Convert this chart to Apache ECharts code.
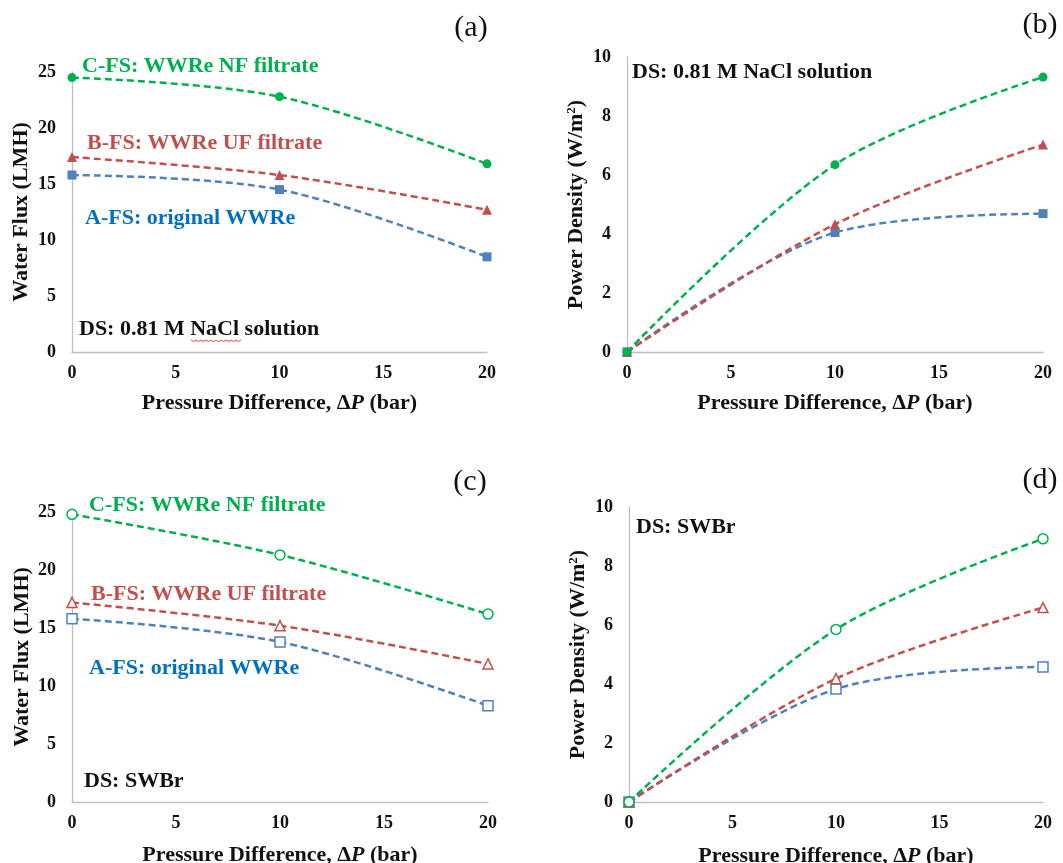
<!DOCTYPE html>
<html>
<head>
<meta charset="utf-8">
<script src="https://cdn.jsdelivr.net/npm/echarts@6/dist/echarts.min.js"></script>
<style>
  html, body { margin: 0; padding: 0; background: #ffffff; }
  #chart { width: 1063px; height: 863px; }
</style>
</head>
<body>
<div id="chart"></div>
<script>
// Applied pressure difference (bar)
const pressure = [0, 10, 20];

// Water flux (LMH) with 0.81 M NaCl draw solution
const fluxNaClA = [15.8, 14.5, 8.5];
const fluxNaClB = [17.4, 15.8, 12.7];
const fluxNaClC = [24.5, 22.8, 16.8];

// Power density (W/m2) with 0.81 M NaCl draw solution
const powerNaClA = [0, 4.05, 4.69];
const powerNaClB = [0, 4.33, 7.03];
const powerNaClC = [0, 6.35, 9.32];

// Water flux (LMH) with SWBr draw solution
const fluxSWBrA = [15.8, 13.8, 8.3];
const fluxSWBrB = [17.2, 15.2, 11.9];
const fluxSWBrC = [24.8, 21.3, 16.2];

// Power density (W/m2) with SWBr draw solution
const powerSWBrA = [0, 3.83, 4.58];
const powerSWBrB = [0, 4.18, 6.59];
const powerSWBrC = [0, 5.85, 8.92];

const xTicks = [0, 5, 10, 15, 20];
const feedNames = ['A-FS: original WWRe', 'B-FS: WWRe UF filtrate', 'C-FS: WWRe NF filtrate'];

const SERIF = '"Liberation Serif", "Times New Roman", serif';
const BLUE = '#4F81BD', RED = '#C0504D', GREEN = '#00B050';
const BLUE_TEXT = '#0070C0';
const AXIS_GRAY = '#BFBFBF';

const chart = echarts.init(document.getElementById('chart'), null, { renderer: 'canvas' });

// Four panels: (a) flux NaCl, (b) power NaCl, (c) flux SWBr, (d) power SWBr
const grids = [
  { left: 72,  top: 72,  width: 415, height: 280 },
  { left: 627, top: 57,  width: 416, height: 295 },
  { left: 72,  top: 512, width: 416, height: 290 },
  { left: 629, top: 507, width: 414, height: 295 }
].map(g => Object.assign({ containLabel: false, outerBoundsMode: 'none' }, g));

const tickLabel = { fontFamily: SERIF, fontWeight: 'bold', fontSize: 18, color: '#111' };
const nameStyle = {
  fontFamily: SERIF, fontWeight: 'bold', fontSize: 22, color: '#111',
  rich: {
    i: { fontFamily: SERIF, fontWeight: 'bold', fontStyle: 'italic', fontSize: 22, color: '#111' },
    sup: { fontFamily: SERIF, fontWeight: 'bold', fontSize: 13, color: '#111', verticalAlign: 'top', padding: [0, 0, 6, 0] }
  }
};

function xAxisFor(idx, gap) {
  return {
    type: 'value', gridIndex: idx, min: xTicks[0], max: xTicks[xTicks.length - 1], interval: 5,
    name: 'Pressure Difference, Δ{i|P} (bar)', nameLocation: 'middle', nameGap: gap,
    nameTextStyle: nameStyle,
    axisLine: { show: true, lineStyle: { color: AXIS_GRAY, width: 1.3 } },
    axisTick: { show: false }, splitLine: { show: false },
    axisLabel: Object.assign({ margin: 12 }, tickLabel)
  };
}
function yAxisFor(idx, max, interval, name, gap) {
  return {
    type: 'value', gridIndex: idx, min: 0, max: max, interval: interval,
    name: name, nameLocation: 'middle', nameGap: gap, nameTextStyle: nameStyle,
    axisLine: { show: true, lineStyle: { color: AXIS_GRAY, width: 1.3 } },
    axisTick: { show: false }, splitLine: { show: false },
    axisLabel: Object.assign({ margin: 16 }, tickLabel)
  };
}

function line(name, idx, values, color, symbol, size, hollow) {
  return {
    name: name, type: 'line', xAxisIndex: idx, yAxisIndex: idx,
    data: pressure.map((p, i) => [p, values[i]]),
    smooth: 0.33,
    symbol: symbol, symbolSize: size, showSymbol: true,
    lineStyle: { color: color, width: 2.5, type: [7, 4] },
    itemStyle: hollow ? { color: '#ffffff', borderColor: color, borderWidth: 1.5 } : { color: color, borderWidth: 0 },
    emphasis: { disabled: true },
    silent: true, animation: false
  };
}

const sets = [
  [fluxNaClA, fluxNaClB, fluxNaClC, false],
  [powerNaClA, powerNaClB, powerNaClC, false],
  [fluxSWBrA, fluxSWBrB, fluxSWBrC, true],
  [powerSWBrA, powerSWBrB, powerSWBrC, true]
];
const series = [];
sets.forEach((s, idx) => {
  const hollow = s[3];
  series.push(line(feedNames[0], idx, s[0], BLUE, 'rect', hollow ? 10 : 9, hollow));
  series.push(line(feedNames[1], idx, s[1], RED, 'triangle', hollow ? 10 : 10, hollow));
  series.push(line(feedNames[2], idx, s[2], GREEN, 'circle', hollow ? 10 : 9, hollow));
});

function label(x, y, text, color, size, weight, align) {
  return {
    type: 'text', x: x, y: y, silent: true,
    style: {
      text: text, fill: color,
      font: (weight || 'bold') + ' ' + (size || 22) + 'px ' + SERIF,
      textAlign: align || 'left', textVerticalAlign: 'middle',
      align: align || 'left', verticalAlign: 'middle'
    }
  };
}

// Wavy spell-check underline beneath "NaCl" in panel (a)
const squiggle = [];
for (let x = 191, k = 0; x <= 243; x += 2.5, k++) squiggle.push([x, 340 + (k % 2 ? 1.6 : 0)]);

const graphics = [
  label(471, 28, '(a)', '#111', 30, 'normal', 'center'),
  label(1040, 25, '(b)', '#111', 30, 'normal', 'center'),
  label(470, 482, '(c)', '#111', 30, 'normal', 'center'),
  label(1040, 480, '(d)', '#111', 30, 'normal', 'center'),

  label(82, 66, feedNames[2], GREEN),
  label(87, 143, feedNames[1], RED),
  label(85, 218, feedNames[0], BLUE_TEXT),
  label(79, 329, 'DS: 0.81 M NaCl solution', '#111'),

  label(632, 72, 'DS: 0.81 M NaCl solution', '#111'),

  label(89, 505, feedNames[2], GREEN),
  label(91, 594, feedNames[1], RED),
  label(89, 668, feedNames[0], BLUE_TEXT),
  label(84, 781, 'DS: SWBr', '#111'),

  label(636, 527, 'DS: SWBr', '#111'),

  { type: 'polyline', silent: true, shape: { points: squiggle }, style: { stroke: '#E0403A', lineWidth: 1, fill: null } }
];

chart.setOption({
  animation: false,
  backgroundColor: '#ffffff',
  grid: grids,
  xAxis: [xAxisFor(0, 40), xAxisFor(1, 40), xAxisFor(2, 42), xAxisFor(3, 43)],
  yAxis: [
    yAxisFor(0, 25, 5, 'Water Flux (LMH)', 40),
    yAxisFor(1, 10, 2, 'Power Density (W/m{sup|2})', 40),
    yAxisFor(2, 25, 5, 'Water Flux (LMH)', 39),
    yAxisFor(3, 10, 2, 'Power Density (W/m{sup|2})', 40)
  ],
  series: series,
  graphic: graphics
});
</script>
</body>
</html>
